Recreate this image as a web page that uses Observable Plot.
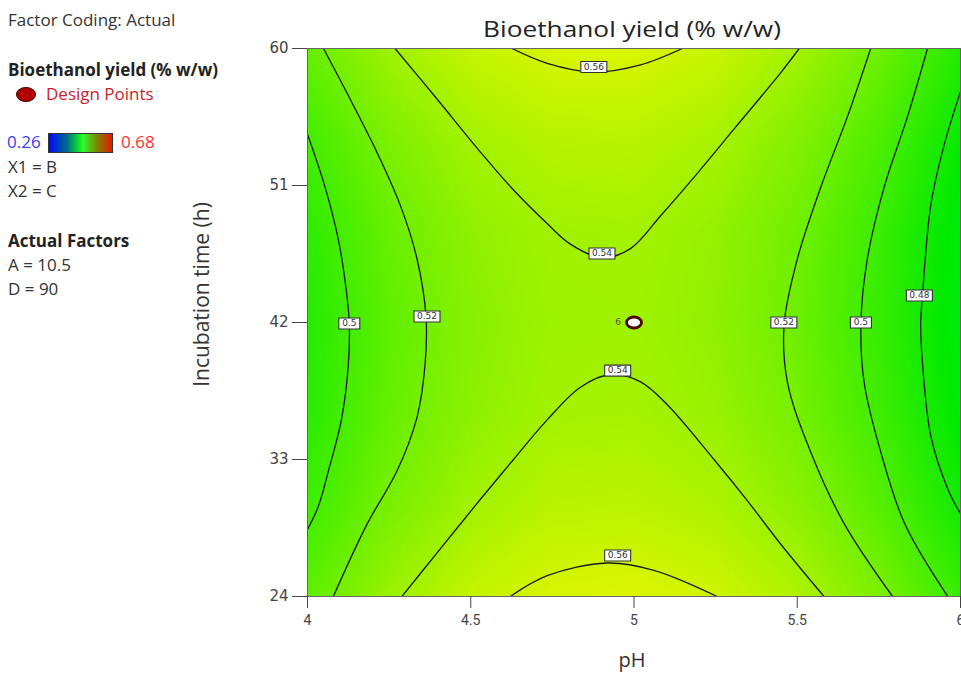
<!DOCTYPE html>
<html><head><meta charset="utf-8">
<script src="https://cdn.jsdelivr.net/npm/d3@7"></script>
<script src="https://cdn.jsdelivr.net/npm/@observablehq/plot@0.6"></script>
<style>
body{margin:0;background:#fff;}
#wrap{position:relative;width:961px;height:674px;overflow:hidden;font-family:"Open Sans",sans-serif;color:#333;}
.t{position:absolute;white-space:nowrap;font-size:17px;line-height:1;}
.b{font-weight:700;color:#222;}
#chart{position:absolute;left:0;top:0;}
</style></head><body>
<div id="wrap">
  <div id="chart"></div>
  <div class="t" style="left:8px;top:11px">Factor Coding: Actual</div>
  <div class="t b" style="left:8px;top:61px">Bioethanol yield (% w/w)</div>
  <div style="position:absolute;left:16px;top:87px;width:18px;height:13px;border-radius:50%;background:#b00000;border:1.5px solid #4a0000;"></div>
  <div class="t" style="left:46px;top:85px;color:#c8242a">Design Points</div>
  <div class="t" style="left:7px;top:133px;color:#3a3aff">0.26</div>
  <div style="position:absolute;left:48px;top:133px;width:63px;height:18px;border:1px solid #333;background:linear-gradient(to right,#0008ff 0%,#006a8a 28%,#10f020 50%,#30ff30 53%,#7a8a00 75%,#e01800 100%);"></div>
  <div class="t" style="left:121px;top:133px;color:#ff3030">0.68</div>
  <div class="t" style="left:8px;top:158px">X1 = B</div>
  <div class="t" style="left:8px;top:182px">X2 = C</div>
  <div class="t b" style="left:8px;top:232px">Actual Factors</div>
  <div class="t" style="left:8px;top:256px">A = 10.5</div>
  <div class="t" style="left:8px;top:280px">D = 90</div>
  <div class="t" style="left:632px;top:19px;font-size:21px;transform:translateX(-50%) scaleX(1.25);color:#222">Bioethanol yield (% w/w)</div>
  <div class="t" style="left:632px;top:650px;font-size:20px;transform:translateX(-50%);color:#333">pH</div>
  <div class="t" style="left:51px;top:284px;width:300px;text-align:center;font-size:21px;transform:rotate(-90deg);color:#333">Incubation time (h)</div>
</div>
<script>
// axis ticks
const phTicks = [4, 4.5, 5, 5.5, 6];
const timeTicks = [24, 33, 42, 51, 60];

// coarse grid of the response surface
const gridPH = [4, 4.25, 4.5, 4.75, 5, 5.25, 5.5, 5.75, 6];
const gridTime = [24, 30, 36, 42, 48, 54, 60];
const gridYield = [
  [0.511, 0.537, 0.555, 0.564, 0.566, 0.560, 0.546, 0.524, 0.494],
  [0.497, 0.522, 0.540, 0.550, 0.551, 0.545, 0.531, 0.508, 0.478],
  [0.488, 0.514, 0.531, 0.541, 0.542, 0.536, 0.521, 0.498, 0.468],
  [0.486, 0.511, 0.529, 0.538, 0.539, 0.532, 0.517, 0.494, 0.464],
  [0.490, 0.515, 0.532, 0.540, 0.541, 0.534, 0.519, 0.496, 0.465],
  [0.499, 0.524, 0.541, 0.549, 0.550, 0.543, 0.527, 0.504, 0.473],
  [0.514, 0.539, 0.555, 0.564, 0.564, 0.557, 0.541, 0.518, 0.486]
];

// contour lines: [pH, time]
const contour050L = [[4.0,54.37],[4.054,50.88],[4.095,47.39],[4.120,43.89],[4.128,41.91],[4.125,39.22],[4.105,35.74],[4.064,32.24],[4.033,29.91],[4.0,28.40]];
const contour052L = [[4.049,60],[4.130,56.70],[4.212,53.21],[4.284,49.71],[4.335,46.22],[4.363,42.37],[4.360,39.22],[4.335,35.74],[4.274,32.24],[4.182,28.74],[4.079,24]];
const contour054U = [[4.268,60],[4.396,56.7],[4.529,53.21],[4.631,50.7],[4.734,48.5],[4.805,47.15],[4.902,46.25],[4.989,46.85],[5.081,49.0],[5.194,51.8],[5.306,54.7],[5.449,58.4],[5.506,60]];
const contour054L = [[4.289,24],[4.406,27.11],[4.529,30.37],[4.631,33.0],[4.734,35.6],[4.836,37.75],[4.93,38.6],[5.020,38.1],[5.102,36.6],[5.245,33.0],[5.347,30.3],[5.449,27.45],[5.582,24]];
const contour056U = [[4.626,60],[4.734,59.03],[4.877,58.45],[5.020,58.92],[5.148,60]];
const contour056L = [[4.621,24],[4.734,25.37],[4.918,26.2],[5.061,25.72],[5.255,24]];
const contour052R = [[5.725,60],[5.654,55.54],[5.572,50.88],[5.501,46.22],[5.460,41.91],[5.470,38.06],[5.543,33.40],[5.645,28.74],[5.792,24]];
const contour050R = [[5.899,60],[5.838,55.54],[5.766,50.88],[5.715,46.22],[5.695,41.91],[5.705,38.06],[5.757,33.40],[5.830,28.74],[5.961,24]];
const contour048R = [[6.0,57.17],[5.950,53.67],[5.909,49.71],[5.884,43.89],[5.878,41.9],[5.884,39.22],[5.909,34.56],[5.961,31.07],[6.0,29.44]];

// contour labels
const labelText = ["0.56","0.54","0.54","0.56","0.5","0.52","0.52","0.5","0.48"];
const labelPH   = [4.877, 4.902, 4.950, 4.950, 4.128, 4.366, 5.459, 5.695, 5.874];
const labelTime = [58.78, 46.53, 38.84, 26.69, 41.93, 42.39, 42.0, 42.0, 43.77];

// design point
const designPH = [5];
const designTime = [42];
const designCount = ["6"];

// colour ramp (style)
const colorStops = [0.26, 0.365, 0.47, 0.575, 0.68];
const colorRange = ["#0000ff", "#00e0e8", "#00ea00", "#f2f600", "#ff0000"];

const gridTable = gridTime.flatMap((t, i) => gridPH.map((p, j) => ({ph: p, time: t, v: gridYield[i][j]})));
const lineTable = [contour050L, contour052L, contour054U, contour054L, contour056U, contour056L, contour052R, contour050R, contour048R]
  .flatMap((pts, id) => pts.map(([ph, time]) => ({id, ph, time})));
const labelTable = labelText.map((text, i) => ({text, ph: labelPH[i], time: labelTime[i]}));
const designTable = designPH.map((ph, i) => ({ph, time: designTime[i], n: designCount[i]}));

const box = (w, h) => ({draw(ctx) {
  ctx.moveTo(-w / 2, -h / 2); ctx.lineTo(w / 2, -h / 2); ctx.lineTo(w / 2, h / 2); ctx.lineTo(-w / 2, h / 2); ctx.closePath();
}});
const ellipse = (rx, ry) => ({draw(ctx) {
  const k = 0.5523;
  ctx.moveTo(rx, 0);
  ctx.bezierCurveTo(rx, ry * k, rx * k, ry, 0, ry);
  ctx.bezierCurveTo(-rx * k, ry, -rx, ry * k, -rx, 0);
  ctx.bezierCurveTo(-rx, -ry * k, -rx * k, -ry, 0, -ry);
  ctx.bezierCurveTo(rx * k, -ry, rx, -ry * k, rx, 0);
  ctx.closePath();
}});

const chart = Plot.plot({
  width: 961,
  height: 674,
  marginLeft: 307,
  marginRight: 1,
  marginTop: 48,
  marginBottom: 78,
  x: {domain: d3.extent(phTicks)},
  y: {domain: d3.extent(timeTicks)},
  color: {type: "linear", domain: colorStops, range: colorRange, interpolate: "rgb"},
  marks: [
    Plot.raster(gridTable, {x: "ph", y: "time", fill: "v", interpolate: "barycentric", pixelSize: 1,
      x1: d3.min(gridPH), x2: d3.max(gridPH), y1: d3.min(gridTime), y2: d3.max(gridTime)}),
    Plot.line(lineTable, {x: "ph", y: "time", z: "id", curve: "catmull-rom", stroke: "#1a1a1a", strokeWidth: 1.3, clip: true}),
    Plot.dot(labelTable.filter(d => d.text.length > 3), {x: "ph", y: "time", symbol: box(26, 11), r: 5, fill: "white", stroke: "#333", strokeWidth: 1.1}),
    Plot.dot(labelTable.filter(d => d.text.length <= 3), {x: "ph", y: "time", symbol: box(21, 11), r: 5, fill: "white", stroke: "#333", strokeWidth: 1.1}),
    Plot.text(labelTable, {x: "ph", y: "time", text: "text", fontSize: 9, fontFamily: "DejaVu Sans", fill: "#333"}),
    Plot.dot(designTable, {x: "ph", y: "time", symbol: ellipse(7.5, 5.5), r: 5, fill: "white", stroke: "#4a0606", strokeWidth: 2.8}),
    Plot.text(designTable, {x: "ph", y: "time", text: "n", dx: -16, fontSize: 9, fontFamily: "DejaVu Sans", fill: "#555"}),
    Plot.frame({stroke: "#666", strokeWidth: 1}),
    Plot.axisY({ticks: timeTicks, tickFormat: d => String(d), tickSize: 15, tickPadding: 4, fontSize: 15, fontFamily: "DejaVu Sans", color: "#444", label: null}),
    Plot.axisX({ticks: phTicks, tickFormat: d => String(d), tickSize: 12, tickPadding: 7, fontSize: 14, fontFamily: "Roboto", color: "#444", label: null})
  ]
});
document.getElementById("chart").appendChild(chart);
</script>
</body></html>
